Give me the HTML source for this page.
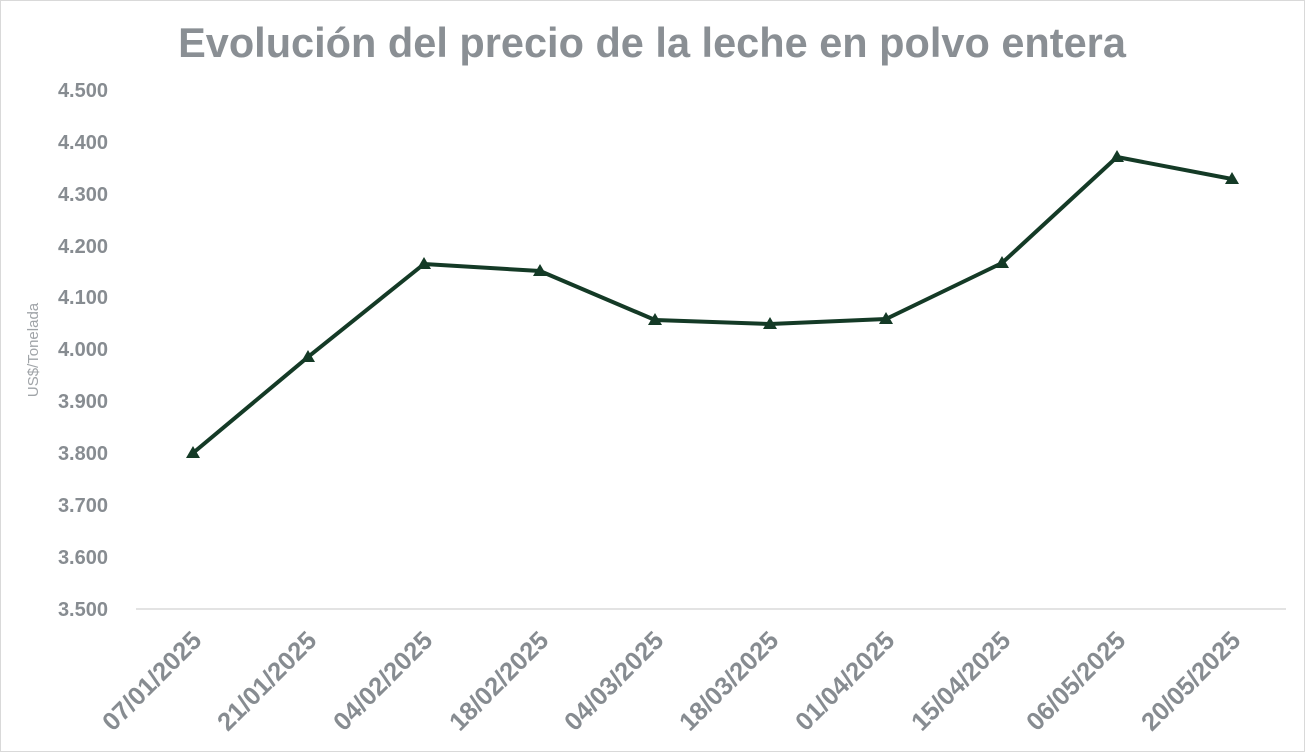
<!DOCTYPE html>
<html><head><meta charset="utf-8"><style>
html,body{margin:0;padding:0;background:#fff}
svg{display:block}
text{font-family:"Liberation Sans",sans-serif}
</style></head><body>
<svg width="1305" height="752" viewBox="0 0 1305 752">
<rect x="0.5" y="0.5" width="1304" height="751" fill="#fff" stroke="#d9d9d9"/>
<text x="652" y="57" text-anchor="middle" font-size="41.5" font-weight="bold" fill="#8a8f94">Evolución del precio de la leche en polvo entera</text>
<line x1="136" y1="609" x2="1286" y2="609" stroke="#e3e3e3" stroke-width="2"/>
<g font-size="20" font-weight="bold" fill="#878c91" text-anchor="end">
<text x="108" y="616">3.500</text>
<text x="108" y="564">3.600</text>
<text x="108" y="512">3.700</text>
<text x="108" y="460">3.800</text>
<text x="108" y="408">3.900</text>
<text x="108" y="356">4.000</text>
<text x="108" y="304">4.100</text>
<text x="108" y="253">4.200</text>
<text x="108" y="201">4.300</text>
<text x="108" y="149">4.400</text>
<text x="108" y="97">4.500</text>
</g>
<text transform="translate(38,350) rotate(-90)" text-anchor="middle" font-size="15" fill="#a0a4a8">US$/Tonelada</text>
<g font-size="25.5" font-weight="bold" fill="#878c91" text-anchor="end">
<text transform="translate(203,642) rotate(-45)">07/01/2025</text>
<text transform="translate(318,642) rotate(-45)">21/01/2025</text>
<text transform="translate(434,642) rotate(-45)">04/02/2025</text>
<text transform="translate(550,642) rotate(-45)">18/02/2025</text>
<text transform="translate(665,642) rotate(-45)">04/03/2025</text>
<text transform="translate(780,642) rotate(-45)">18/03/2025</text>
<text transform="translate(896,642) rotate(-45)">01/04/2025</text>
<text transform="translate(1012,642) rotate(-45)">15/04/2025</text>
<text transform="translate(1127,642) rotate(-45)">06/05/2025</text>
<text transform="translate(1242,642) rotate(-45)">20/05/2025</text>
</g>
<polyline fill="none" stroke="#143a26" stroke-width="4" stroke-linejoin="round" points="193,453 308,357 424,264 540,271 655,320 770,324 886,319 1002,263 1117,157 1232,179"/>
<g fill="#143a26">
<path d="M193,446 l7,12 h-14z"/>
<path d="M308,350 l7,12 h-14z"/>
<path d="M424,257 l7,12 h-14z"/>
<path d="M540,264 l7,12 h-14z"/>
<path d="M655,313 l7,12 h-14z"/>
<path d="M770,317 l7,12 h-14z"/>
<path d="M886,312 l7,12 h-14z"/>
<path d="M1002,256 l7,12 h-14z"/>
<path d="M1117,150 l7,12 h-14z"/>
<path d="M1232,172 l7,12 h-14z"/>
</g>
</svg>
</body></html>
